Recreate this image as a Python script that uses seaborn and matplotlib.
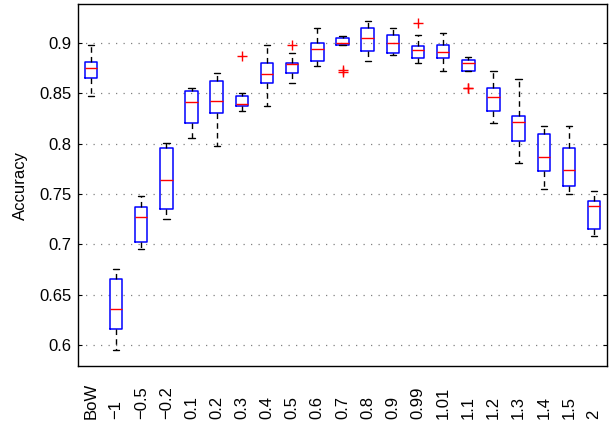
import numpy as np
import pandas as pd
import matplotlib
matplotlib.use("Agg")
import matplotlib.pyplot as plt
import seaborn as sns

# ---- data (per-group box statistics) ----
categories = ["BoW", "\u22121", "\u22120.5", "\u22120.2", "0.1", "0.2", "0.3", "0.4", "0.5",
              "0.6", "0.7", "0.8", "0.9", "0.99", "1.01", "1.1", "1.2", "1.3", "1.4",
              "1.5", "2"]
lows    = [0.8476, 0.5950, 0.6955, 0.7250, 0.8056, 0.7980, 0.8330, 0.8377, 0.8605,
           0.8777, 0.8980, 0.8827, 0.8880, 0.8804, 0.8728, 0.8725, 0.8208, 0.7807,
           0.7555, 0.7502, 0.7078]
q1s     = [0.8650, 0.6153, 0.7028, 0.7350, 0.8205, 0.8304, 0.8377, 0.8602, 0.8705,
           0.8827, 0.8980, 0.8926, 0.8904, 0.8857, 0.8851, 0.8725, 0.8327, 0.8032,
           0.7728, 0.7581, 0.7151]
medians = [0.8755, 0.6356, 0.7267, 0.7641, 0.8417, 0.8429, 0.8394, 0.8695, 0.8794,
           0.8943, 0.9006, 0.9053, 0.9006, 0.8930, 0.8917, 0.8801, 0.8469, 0.8217,
           0.7867, 0.7740, 0.7380]
q3s     = [0.8810, 0.6654, 0.7376, 0.7956, 0.8529, 0.8628, 0.8480, 0.8807, 0.8807,
           0.9006, 0.9053, 0.9152, 0.9080, 0.8976, 0.8980, 0.8833, 0.8553, 0.8279,
           0.8101, 0.7956, 0.7430]
highs   = [0.8980, 0.6753, 0.7482, 0.8006, 0.8553, 0.8708, 0.8500, 0.8983, 0.8907,
           0.9152, 0.9076, 0.9225, 0.9152, 0.9080, 0.9106, 0.8861, 0.8728, 0.8645,
           0.8178, 0.8178, 0.7529]
outliers = [[], [], [], [], [], [], [0.8877], [], [0.8983],
            [], [0.8735, 0.8710], [], [], [0.9205], [], [0.8558, 0.8550], [], [],
            [], [], []]

ytick_values = [0.6, 0.65, 0.7, 0.75, 0.8, 0.85, 0.9]
ytick_labels = ["0.6", "0.65", "0.7", "0.75", "0.8", "0.85", "0.9"]
ylabel = "Accuracy"


def sample_from_stats(lo, a, m, b, hi, outs):
    """9 values whose quartiles (numpy linear) are exactly a, m, b."""
    downs = sorted(o for o in outs if o < a)
    ups = sorted(o for o in outs if o > b)
    lower = downs + [lo] * (2 - len(downs))
    upper = [hi] * (2 - len(ups)) + ups
    return lower + [a, a, m, m, b] + upper


rows = []
for cat, lo, a, m, b, hi, outs in zip(categories, lows, q1s, medians, q3s, highs, outliers):
    for v in sample_from_stats(lo, a, m, b, hi, outs):
        rows.append({"param": cat, "acc": v})
df = pd.DataFrame(rows)

# ---- style ----
sns.set_theme(style="white")
plt.rcParams["font.family"] = ["Liberation Sans", "DejaVu Sans"]
plt.rcParams["axes.unicode_minus"] = True

fig = plt.figure(figsize=(6.10, 4.24), dpi=100)
ax = fig.add_axes([78.3 / 610, 58 / 424, 528.4 / 610, 362 / 424])

sns.boxplot(
    data=df, x="param", y="acc", order=categories, ax=ax,
    width=0.5, fill=False, whis=1.5, linewidth=1.0, color="blue",
    boxprops=dict(color="#0000ff", linewidth=1.1),
    medianprops=dict(color="#ff0000", linewidth=1.0),
    whiskerprops=dict(color="black", linewidth=1.0, linestyle=(0, (4, 3))),
    capprops=dict(color="black", linewidth=1.0),
    flierprops=dict(marker="+", markeredgecolor="#ff0000", markerfacecolor="none",
                    markersize=7, markeredgewidth=1.0, linestyle="none"),
)

ax.set_xlim(-0.5, len(categories) - 0.5)
ax.set_ylim(0.579, 0.939)
ax.set_yticks(ytick_values)
ax.set_yticklabels(ytick_labels)
ax.yaxis.grid(True, linestyle=(0, (1, 5)), color="#808080", linewidth=0.9)
ax.xaxis.grid(False)
ax.set_axisbelow(True)

ax.set_xlabel("")
ax.set_ylabel(ylabel, fontsize=12, color="black")
ax.yaxis.set_label_coords(-0.0946, 0.5)

ax.tick_params(axis="y", direction="in", length=3, width=0.8, left=True, right=True,
               labelsize=12, pad=5, colors="black")
ax.tick_params(axis="x", length=0, labelsize=12, pad=38, colors="black")
for lab in ax.get_xticklabels():
    lab.set_rotation(90)
    lab.set_va("bottom")
    lab.set_ha("center")

for s in ax.spines.values():
    s.set_visible(True)
    s.set_color("black")
    s.set_linewidth(1.0)

fig.savefig("out.png", dpi=100, facecolor="white")
